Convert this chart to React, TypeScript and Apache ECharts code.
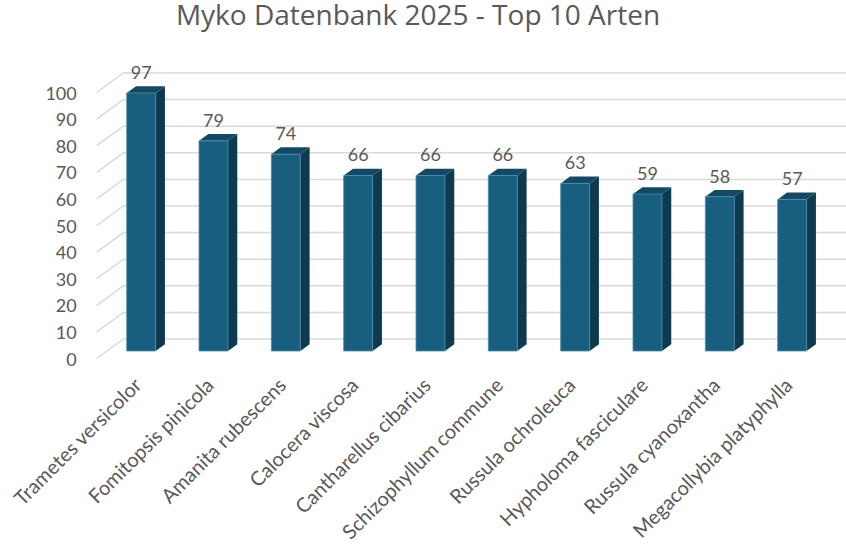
import React, { useEffect, useRef } from "react";
import * as echarts from "echarts";

const title = "Myko Datenbank 2025 - Top 10 Arten";
const categories = [
  "Trametes versicolor",
  "Fomitopsis pinicola",
  "Amanita rubescens",
  "Calocera viscosa",
  "Cantharellus cibarius",
  "Schizophyllum commune",
  "Russula ochroleuca",
  "Hypholoma fasciculare",
  "Russula cyanoxantha",
  "Megacollybia platyphylla",
];
const counts = [97, 79, 74, 66, 66, 66, 63, 59, 58, 57];
const yTicks = [0, 10, 20, 30, 40, 50, 60, 70, 80, 90, 100];

const FONT = "Lato, 'Noto Sans', sans-serif";
const TITLE_FONT = "'Open Sans', Lato, sans-serif";
const TEXT = "#595959";
const GRID = "#D9D9D9";
const FRONT = "#175E7F";
const TOP = "#124A65";
const SIDE = "#0C3A4F";

// oblique 3D offsets (px)
const K = 1.37;
const LABEL_DY = 7.5;
const BACK_DY = -12;
const BAR_DY = -6.8;

export default function App() {
  const ref = useRef<HTMLDivElement>(null);
  useEffect(() => {
    if (!ref.current) return;
    const chart = echarts.init(ref.current, null, { renderer: "svg" });
    chart.setOption({
      animation: false,
      backgroundColor: "#ffffff",
      title: {
        text: title,
        left: 418,
        top: 0,
        padding: 0,
        textAlign: "center",
        textStyle: {
          fontFamily: TITLE_FONT,
          fontSize: 28,
          lineHeight: 28,
          fontWeight: "normal",
          color: TEXT,
        },
      },
      grid: { left: 105, right: 17.7, top: 85, bottom: 196, containLabel: false },
      xAxis: {
        type: "category",
        data: categories,
        axisLine: { show: false },
        axisTick: { show: false },
        axisLabel: { show: false },
      },
      yAxis: {
        type: "value",
        min: 0,
        max: 100,
        interval: 10,
        splitLine: { show: false },
        axisLine: { show: false },
        axisTick: { show: false },
        axisLabel: { show: false },
      },
      series: [
        {
          type: "custom",
          z: 1,
          silent: true,
          data: yTicks.map((v) => [0, v]),
          encode: { x: 0, y: 1 },
          renderItem: (params: any, api: any) => {
            const v = api.value(1);
            const p = api.coord([0, v]);
            const band = api.size([1, 0])[0];
            const wallX = p[0] - band / 2 + 2;
            const y = p[1];
            const fx = wallX - LABEL_DY * K;
            const fy = y + LABEL_DY;
            return {
              type: "group",
              children: [
                {
                  type: "polyline",
                  shape: {
                    points: [
                      [fx, fy],
                      [wallX - BACK_DY * K, y + BACK_DY],
                      [api.getWidth(), y + BACK_DY],
                    ],
                  },
                  style: { stroke: GRID, lineWidth: 1.5, fill: "none" },
                },
                {
                  type: "text",
                  x: fx - 20,
                  y: fy,
                  style: {
                    text: String(v),
                    align: "right",
                    verticalAlign: "middle",
                    fontFamily: FONT,
                    fontSize: 18,
                    fill: TEXT,
                  },
                },
              ],
            };
          },
        },
        {
          type: "custom",
          z: 2,
          data: counts.map((v, i) => [i, v]),
          encode: { x: 0, y: 1 },
          renderItem: (params: any, api: any) => {
            const idx = api.value(0);
            const v = api.value(1);
            const top = api.coord([idx, v]);
            const bottom = api.coord([idx, 0]);
            const band = api.size([1, 0])[0];
            const w = band * 0.4;
            const l = top[0] - w / 2;
            const r = top[0] + w / 2;
            const ty = top[1];
            const by = bottom[1];
            const dx = -BAR_DY * K;
            const dy = BAR_DY;
            return {
              type: "group",
              children: [
                {
                  type: "polygon",
                  shape: { points: [[r, ty], [r + dx, ty + dy], [r + dx, by + dy], [r, by]] },
                  style: { fill: SIDE },
                },
                {
                  type: "polygon",
                  shape: { points: [[l, ty], [r, ty], [r + dx, ty + dy], [l + dx, ty + dy]] },
                  style: { fill: TOP },
                },
                {
                  type: "rect",
                  shape: { x: l, y: ty, width: w, height: by - ty },
                  style: { fill: FRONT, stroke: "#4C8CAD", lineWidth: 0.8 },
                },
                {
                  type: "text",
                  x: top[0],
                  y: ty - 21,
                  style: {
                    text: String(v),
                    align: "center",
                    verticalAlign: "middle",
                    fontFamily: FONT,
                    fontSize: 18,
                    fill: TEXT,
                  },
                },
                {
                  type: "text",
                  x: top[0] - 4,
                  y: by + 30,
                  rotation: Math.PI / 4,
                  style: {
                    text: categories[idx],
                    align: "right",
                    verticalAlign: "middle",
                    fontFamily: FONT,
                    fontSize: 20,
                    fill: TEXT,
                  },
                },
              ],
            };
          },
        },
      ],
    });
    return () => chart.dispose();
  }, []);
  return (
    <div
      ref={ref}
      style={{ position: "fixed", left: 0, top: 0, width: 846, height: 547, background: "#fff" }}
    />
  );
}
